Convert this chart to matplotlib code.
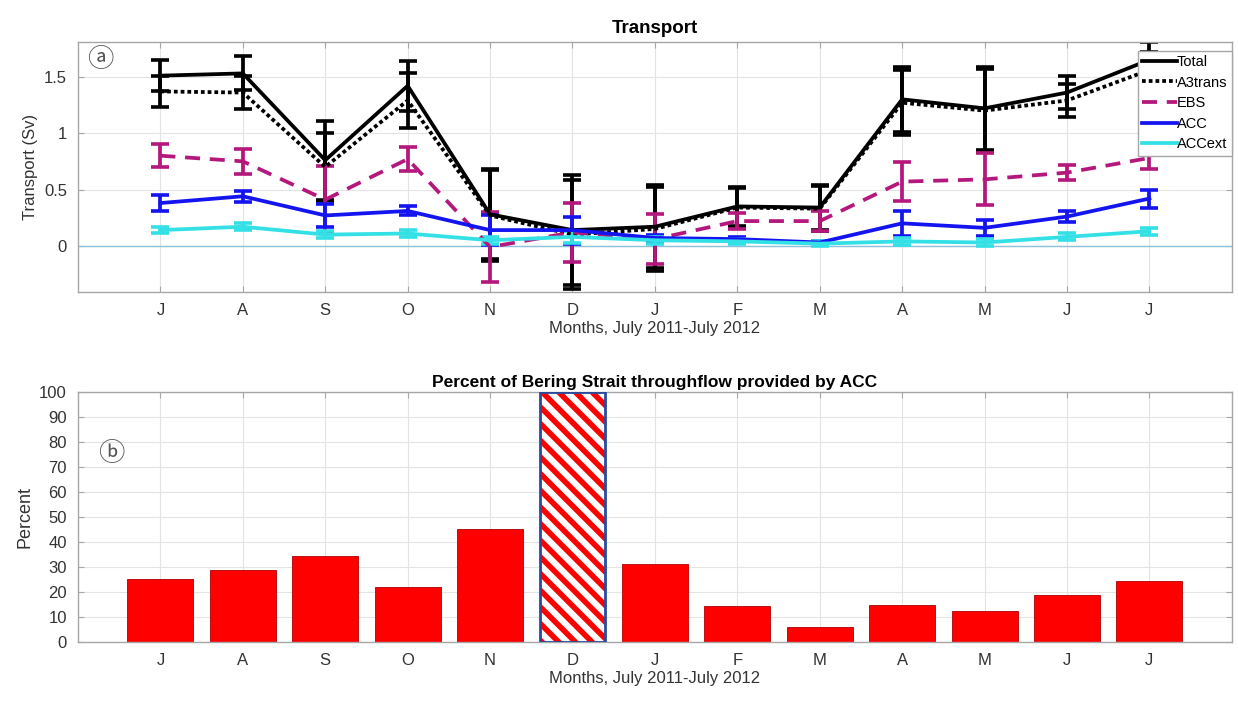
import numpy as np
import matplotlib
matplotlib.use('Agg')
import matplotlib.pyplot as plt
from matplotlib.lines import Line2D

plt.rcParams['font.family'] = ['Liberation Sans', 'DejaVu Sans']
plt.rcParams['hatch.linewidth'] = 4

months = ['J', 'A', 'S', 'O', 'N', 'D', 'J', 'F', 'M', 'A', 'M', 'J', 'J']

total = [1.51, 1.53, 0.76, 1.42, 0.28, 0.14, 0.17, 0.35, 0.34, 1.30, 1.22, 1.36, 1.65]
total_err = [0.14, 0.15, 0.35, 0.22, 0.40, 0.49, 0.37, 0.17, 0.20, 0.29, 0.37, 0.15, 0.16]
a3trans = [1.37, 1.36, 0.70, 1.29, 0.27, 0.10, 0.15, 0.34, 0.33, 1.27, 1.20, 1.29, 1.56]
a3trans_err = [0.14, 0.15, 0.30, 0.24, 0.40, 0.48, 0.37, 0.17, 0.20, 0.29, 0.37, 0.15, 0.16]
ebs = [0.80, 0.75, 0.41, 0.77, -0.01, 0.12, 0.06, 0.22, 0.22, 0.57, 0.59, 0.65, 0.78]
ebs_err = [0.10, 0.11, 0.30, 0.11, 0.31, 0.26, 0.22, 0.07, 0.09, 0.17, 0.23, 0.07, 0.10]
acc = [0.38, 0.44, 0.27, 0.31, 0.14, 0.14, 0.07, 0.06, 0.03, 0.20, 0.16, 0.26, 0.42]
acc_err = [0.07, 0.05, 0.10, 0.04, 0.13, 0.12, 0.03, 0.02, 0.01, 0.11, 0.07, 0.05, 0.08]
accext = [0.14, 0.17, 0.10, 0.11, 0.05, 0.08, 0.05, 0.04, 0.02, 0.04, 0.03, 0.08, 0.13]
accext_err = [0.03, 0.03, 0.03, 0.03, 0.03, 0.05, 0.03, 0.02, 0.02, 0.03, 0.03, 0.03, 0.03]

percent = [25.3, 28.8, 34.7, 22, 45.3, 100, 31.3, 14.5, 6.1, 15.1, 12.5, 18.8, 24.4]
hatched_month = 5  # December, no valid value

x = np.arange(1, len(months) + 1)

fig = plt.figure(figsize=(12.38, 7.09), dpi=100)
ax1 = fig.add_axes([0.063, 0.588, 0.932, 0.353])
ax2 = fig.add_axes([0.063, 0.094, 0.932, 0.353])

def style_axes(ax):
    ax.set_xlim(0, 14)
    ax.set_xticks(x)
    ax.set_xticklabels(months)
    ax.grid(True, color='#e3e3e3', lw=0.8)
    ax.set_axisbelow(True)
    for s in ax.spines.values():
        s.set_color('#a6a6a6')
        s.set_linewidth(1.0)
    ax.tick_params(direction='in', top=True, right=True, length=4, color='#a6a6a6',
                   labelsize=12, labelcolor='#333333', pad=8)

circ_font = ['Noto Sans CJK JP', 'DejaVu Sans']

lw = 2.7
cap = 6.5
ax1.axhline(0, color='#8cc0dc', lw=1, zorder=1)
series = [
    ('Total', total, total_err, 'black', '-'),
    ('A3trans', a3trans, a3trans_err, 'black', (0, (1, 0.8))),
    ('EBS', ebs, ebs_err, '#b5187c', (0, (4, 2.6))),
    ('ACC', acc, acc_err, '#1414f0', '-'),
    ('ACCext', accext, accext_err, '#33e0e6', '-'),
]
handles = []
for name, y, e, c, ls in series:
    line, caps, bars = ax1.errorbar(x, y, yerr=e, color=c, lw=lw, ls=ls, capsize=cap,
                                    capthick=2.6, elinewidth=lw)
    for b in bars:
        b.set_linestyle('-')
    handles.append(Line2D([], [], color=c, lw=lw, ls=ls, label=name))

style_axes(ax1)
ax1.set_ylim(-0.41, 1.81)
ax1.set_yticks([0, 0.5, 1, 1.5])
ax1.set_yticklabels(['0', '0.5', '1', '1.5'])
ax1.set_ylabel('Transport (Sv)', fontsize=12, color='#333333')
ax1.set_xlabel('Months, July 2011-July 2012', fontsize=12, color='#333333', labelpad=2)
ax1.set_title('Transport', fontsize=13.5, fontweight='bold', pad=6)
ax1.text(0.008, 0.985, '\u24d0', transform=ax1.transAxes, fontsize=19, color='#555555',
         ha='left', va='top', family=circ_font)
leg = ax1.legend(handles=handles, loc='upper right', bbox_to_anchor=(1.0, 0.965),
                 fontsize=10.5, handlelength=2.4, handletextpad=0.0, labelspacing=0.45,
                 borderpad=0.3, borderaxespad=0, fancybox=False, framealpha=1)
leg.get_frame().set_edgecolor('#a6a6a6')

# bar panel
normal = [p if i != hatched_month else 0 for i, p in enumerate(percent)]
ax2.bar(x, normal, width=0.8, color='red', edgecolor='#b00000', lw=0.6, zorder=2)
ax2.bar(x[hatched_month], percent[hatched_month], width=0.8, color='white',
        edgecolor='red', hatch='\\\\', lw=0, zorder=2)
ax2.bar(x[hatched_month], percent[hatched_month], width=0.8, fill=False,
        edgecolor='#2a4a9a', lw=2, zorder=3)
style_axes(ax2)
ax2.set_ylim(0, 100)
ax2.set_yticks(np.arange(0, 101, 10))
ax2.set_ylabel('Percent', fontsize=13, color='#333333')
ax2.set_xlabel('Months, July 2011-July 2012', fontsize=12, color='#333333', labelpad=2)
ax2.set_title('Percent of Bering Strait throughflow provided by ACC', fontsize=12.5,
              fontweight='bold', pad=4)
ax2.text(0.017, 0.81, '\u24d1', transform=ax2.transAxes, fontsize=19, color='#555555',
         ha='left', va='top', family=circ_font)

fig.savefig('out.png', dpi=100)
